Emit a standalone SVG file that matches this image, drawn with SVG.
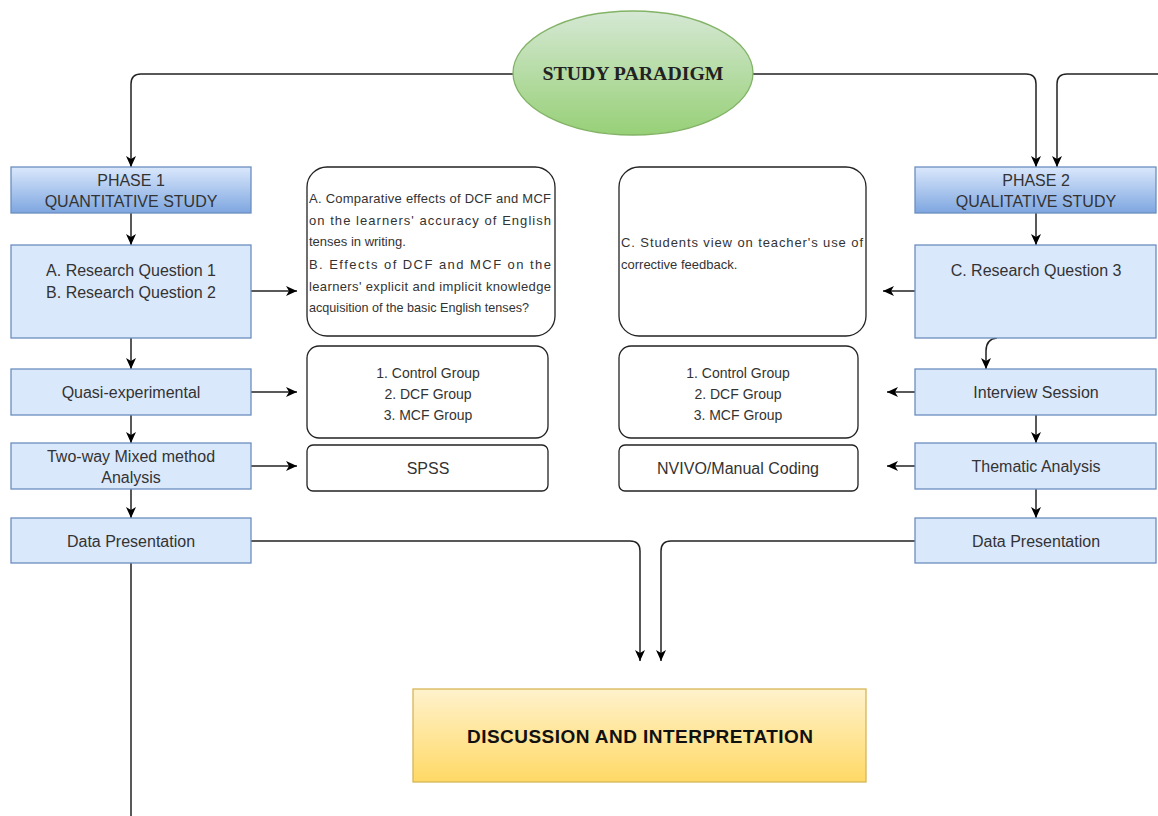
<svg xmlns="http://www.w3.org/2000/svg" width="1158" height="816" viewBox="0 0 1158 816">
<defs>
<linearGradient id="gBlue" x1="0" y1="0" x2="0" y2="1"><stop offset="0" stop-color="#dae8fc"/><stop offset="1" stop-color="#7ea6e0"/></linearGradient>
<linearGradient id="gGreen" x1="0" y1="0" x2="0" y2="1"><stop offset="0" stop-color="#d5e8d4"/><stop offset="1" stop-color="#97d077"/></linearGradient>
<linearGradient id="gYellow" x1="0" y1="0" x2="0" y2="1"><stop offset="0" stop-color="#fff2cc"/><stop offset="1" stop-color="#ffd966"/></linearGradient>
<marker id="arr" markerUnits="userSpaceOnUse" markerWidth="13" markerHeight="12" refX="11" refY="6" orient="auto"><path d="M0,1 L11,6 L0,11 L3,6 z" fill="#000"/></marker>
<style>
.blue{fill:#dae8fc;stroke:#6c8ebf;stroke-width:1.3}
.phase{fill:url(#gBlue);stroke:#6c8ebf;stroke-width:1.3}
.wbox{fill:#fff;stroke:#222;stroke-width:1.3}
.lbl{font-family:"Liberation Sans",Arial,sans-serif;font-size:16px;fill:#333;text-anchor:middle}
.sm{font-family:"Liberation Sans",Arial,sans-serif;font-size:14px;fill:#333;text-anchor:middle}
.par{font-family:"Liberation Sans",Arial,sans-serif;font-size:13px;fill:#333}
.edge{fill:none;stroke:#222;stroke-width:1.5}
.arr{marker-end:url(#arr)}
</style>
</defs>
<g id="connectors">
<path class="edge arr" d="M513 74 L141 74 Q131 74 131 84 L131 167"/>
<path class="edge arr" d="M753 74 L1026 74 Q1036 74 1036 84 L1036 167"/>
<path class="edge arr" d="M1158 74 L1067 74 Q1057 74 1057 84 L1057 167"/>
<path class="edge arr" d="M131 213 L131 245"/>
<path class="edge arr" d="M131 338 L131 369"/>
<path class="edge arr" d="M131 415 L131 443"/>
<path class="edge arr" d="M131 489 L131 518"/>
<path class="edge" d="M131 563 L131 816"/>
<path class="edge arr" d="M251 291 L297 291"/>
<path class="edge arr" d="M251 392 L297 392"/>
<path class="edge arr" d="M251 466 L297 466"/>
<path class="edge arr" d="M1036 213 L1036 245"/>
<path class="edge arr" d="M915 291 L883 291"/>
<path class="edge arr" d="M997 338 Q986 339 986 351 L986 369"/>
<path class="edge arr" d="M915 392 L887 392"/>
<path class="edge arr" d="M1036 415 L1036 443"/>
<path class="edge arr" d="M915 466 L887 466"/>
<path class="edge arr" d="M1036 489 L1036 518"/>
<path class="edge arr" d="M251 541 L630 541 Q640 541 640 551 L640 661"/>
<path class="edge arr" d="M915 541 L671 541 Q661 541 661 551 L661 661"/>
</g>
<g id="study-paradigm">
<ellipse cx="633" cy="73" rx="120" ry="62" fill="url(#gGreen)" stroke="#82b366" stroke-width="1.3"/>
<text x="633" y="80" font-family="'Liberation Serif','Times New Roman',serif" font-size="19" font-weight="bold" fill="#222" text-anchor="middle" textLength="181" lengthAdjust="spacingAndGlyphs">STUDY PARADIGM</text>
</g>
<g id="phase1">
<rect class="phase" x="11" y="167" width="240" height="46"/>
<text class="lbl" x="131" y="186">PHASE 1</text>
<text class="lbl" x="131" y="207">QUANTITATIVE STUDY</text>
</g>
<g id="rq12">
<rect class="blue" x="11" y="245" width="240" height="93"/>
<text class="lbl" x="131" y="276">A. Research Question 1</text>
<text class="lbl" x="131" y="298">B. Research Question 2</text>
</g>
<g id="quasi">
<rect class="blue" x="11" y="369" width="240" height="46"/>
<text class="lbl" x="131" y="398">Quasi-experimental</text>
</g>
<g id="twoway">
<rect class="blue" x="11" y="443" width="240" height="46"/>
<text class="lbl" x="131" y="462">Two-way Mixed method</text>
<text class="lbl" x="131" y="483">Analysis</text>
</g>
<g id="datapres1">
<rect class="blue" x="11" y="518" width="240" height="45"/>
<text class="lbl" x="131" y="547">Data Presentation</text>
</g>
<g id="questions-ab">
<rect class="wbox" x="307" y="167" width="248" height="169" rx="20"/>
<text class="par" x="309" y="203" textLength="242" lengthAdjust="spacing">A. Comparative effects of DCF and MCF</text>
<text class="par" x="309" y="225" textLength="242" lengthAdjust="spacing">on the learners' accuracy of English</text>
<text class="par" x="309" y="246">tenses in writing.</text>
<text class="par" x="309" y="269" textLength="242" lengthAdjust="spacing">B. Effects of DCF and MCF on the</text>
<text class="par" x="309" y="291" textLength="242" lengthAdjust="spacing">learners' explicit and implicit knowledge</text>
<text class="par" x="309" y="312" textLength="220" lengthAdjust="spacingAndGlyphs">acquisition of the basic English tenses?</text>
</g>
<g id="question-c">
<rect class="wbox" x="619" y="167" width="247" height="169" rx="20"/>
<text class="par" x="621" y="247" textLength="242" lengthAdjust="spacing">C. Students view on teacher's use of</text>
<text class="par" x="621" y="269">corrective feedback.</text>
</g>
<g id="groups1">
<rect class="wbox" x="307" y="346" width="241" height="92" rx="12"/>
<text class="sm" x="428" y="378">1. Control Group</text>
<text class="sm" x="428" y="399">2. DCF Group</text>
<text class="sm" x="428" y="420">3. MCF Group</text>
</g>
<g id="spss">
<rect class="wbox" x="307" y="445" width="241" height="46" rx="6"/>
<text class="lbl" x="428" y="474">SPSS</text>
</g>
<g id="groups2">
<rect class="wbox" x="619" y="346" width="239" height="92" rx="12"/>
<text class="sm" x="738" y="378">1. Control Group</text>
<text class="sm" x="738" y="399">2. DCF Group</text>
<text class="sm" x="738" y="420">3. MCF Group</text>
</g>
<g id="nvivo">
<rect class="wbox" x="619" y="445" width="239" height="46" rx="6"/>
<text class="lbl" x="738" y="474">NVIVO/Manual Coding</text>
</g>
<g id="phase2">
<rect class="phase" x="915" y="167" width="241" height="46"/>
<text class="lbl" x="1036" y="186">PHASE 2</text>
<text class="lbl" x="1036" y="207">QUALITATIVE STUDY</text>
</g>
<g id="rq3">
<rect class="blue" x="915" y="245" width="241" height="93"/>
<text class="lbl" x="1036" y="276">C. Research Question 3</text>
</g>
<g id="interview">
<rect class="blue" x="915" y="369" width="241" height="46"/>
<text class="lbl" x="1036" y="398">Interview Session</text>
</g>
<g id="thematic">
<rect class="blue" x="915" y="443" width="241" height="46"/>
<text class="lbl" x="1036" y="472">Thematic Analysis</text>
</g>
<g id="datapres2">
<rect class="blue" x="915" y="518" width="241" height="45"/>
<text class="lbl" x="1036" y="547">Data Presentation</text>
</g>
<g id="discussion">
<rect x="413" y="689" width="453" height="93" fill="url(#gYellow)" stroke="#d6b656" stroke-width="1.3"/>
<text x="640" y="743" font-family="'Liberation Sans',Arial,sans-serif" font-size="19" font-weight="bold" fill="#111" text-anchor="middle" textLength="346" lengthAdjust="spacing">DISCUSSION AND INTERPRETATION</text>
</g>
</svg>
